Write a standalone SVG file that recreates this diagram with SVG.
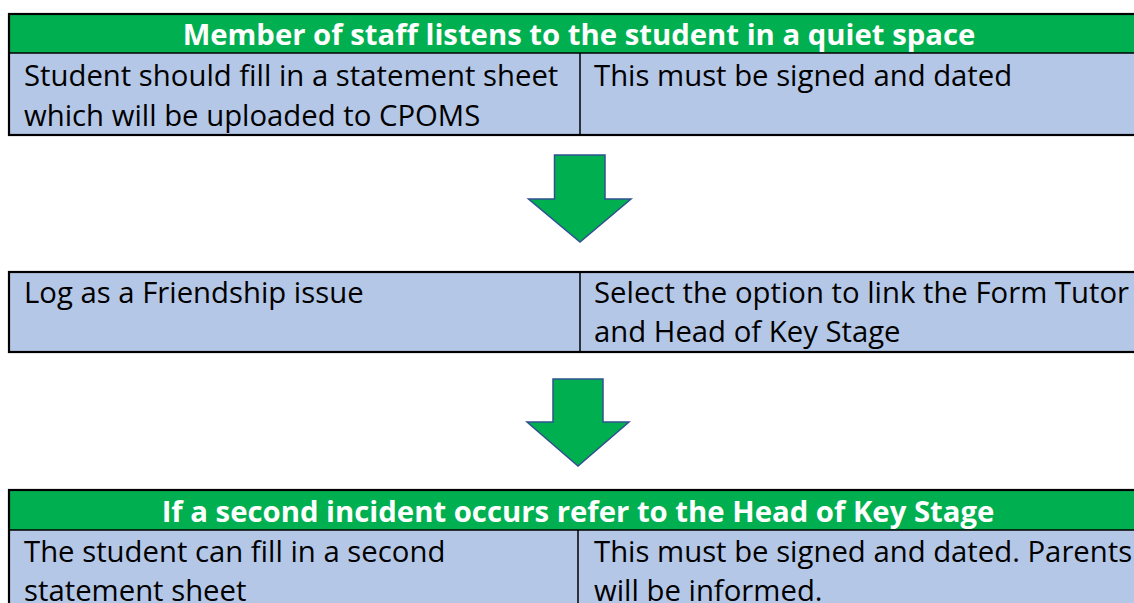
<svg xmlns="http://www.w3.org/2000/svg" width="1134" height="603" viewBox="0 0 1134 603">
<style>
.hdr{fill:#00B050}
.cell{fill:#B4C7E7}
.line{stroke:#000;stroke-width:1.5;fill:none}
.outer{stroke:#000;stroke-width:2.2;fill:none}
.ht{font-family:"Open Sans","Noto Sans",sans-serif;font-weight:bold;font-size:29.3px;fill:#fff;text-anchor:middle}
.t{font-family:"Open Sans","Noto Sans",sans-serif;font-size:29.3px;fill:#000}
.arrow{fill:#00B050;stroke:#2F528F;stroke-width:1.5;stroke-linejoin:miter}
</style>
<rect width="1134" height="603" fill="#fff"/>
<g id="box1">
<rect class="hdr" x="9" y="14" width="1140" height="39"/>
<rect class="cell" x="9" y="53" width="1140" height="82"/>
<line class="line" x1="9" y1="53" x2="1150" y2="53"/>
<line class="line" x1="580" y1="53" x2="580" y2="135"/>
<rect class="outer" x="9" y="14" width="1140" height="121"/>
<text class="ht" x="579" y="45">Member of staff listens to the student in a quiet space</text>
<text class="t" x="24" y="86">Student should fill in a statement sheet</text>
<text class="t" x="24" y="126">which will be uploaded to CPOMS</text>
<text class="t" x="594" y="86">This must be signed and dated</text>
</g>
<g id="box2">
<rect class="cell" x="9" y="272" width="1140" height="80"/>
<line class="line" x1="580" y1="272" x2="580" y2="352"/>
<rect class="outer" x="9" y="272" width="1140" height="80"/>
<text class="t" x="24" y="303">Log as a Friendship issue</text>
<text class="t" x="594" y="303">Select the option to link the Form Tutor</text>
<text class="t" x="594" y="342">and Head of Key Stage</text>
</g>
<g id="box3">
<rect class="hdr" x="9" y="490" width="1140" height="40"/>
<rect class="cell" x="9" y="530" width="1140" height="80"/>
<line class="line" x1="9" y1="530" x2="1150" y2="530"/>
<line class="line" x1="578" y1="530" x2="578" y2="610"/>
<rect class="outer" x="9" y="490" width="1140" height="130"/>
<text class="ht" x="578" y="522">If a second incident occurs refer to the Head of Key Stage</text>
<text class="t" x="24" y="562">The student can fill in a second</text>
<text class="t" x="24" y="601">statement sheet</text>
<text class="t" x="594" y="562">This must be signed and dated. Parents</text>
<text class="t" x="594" y="601">will be informed.</text>
</g>
<g id="connectors">
<polygon class="arrow" points="554.5,155 605,155 605,199 631,199 580,242 528.5,199 554.5,199"/>
<polygon class="arrow" points="553,379 603,379 603,422 629,422 578,466 527,422 553,422"/>
</g>
</svg>
